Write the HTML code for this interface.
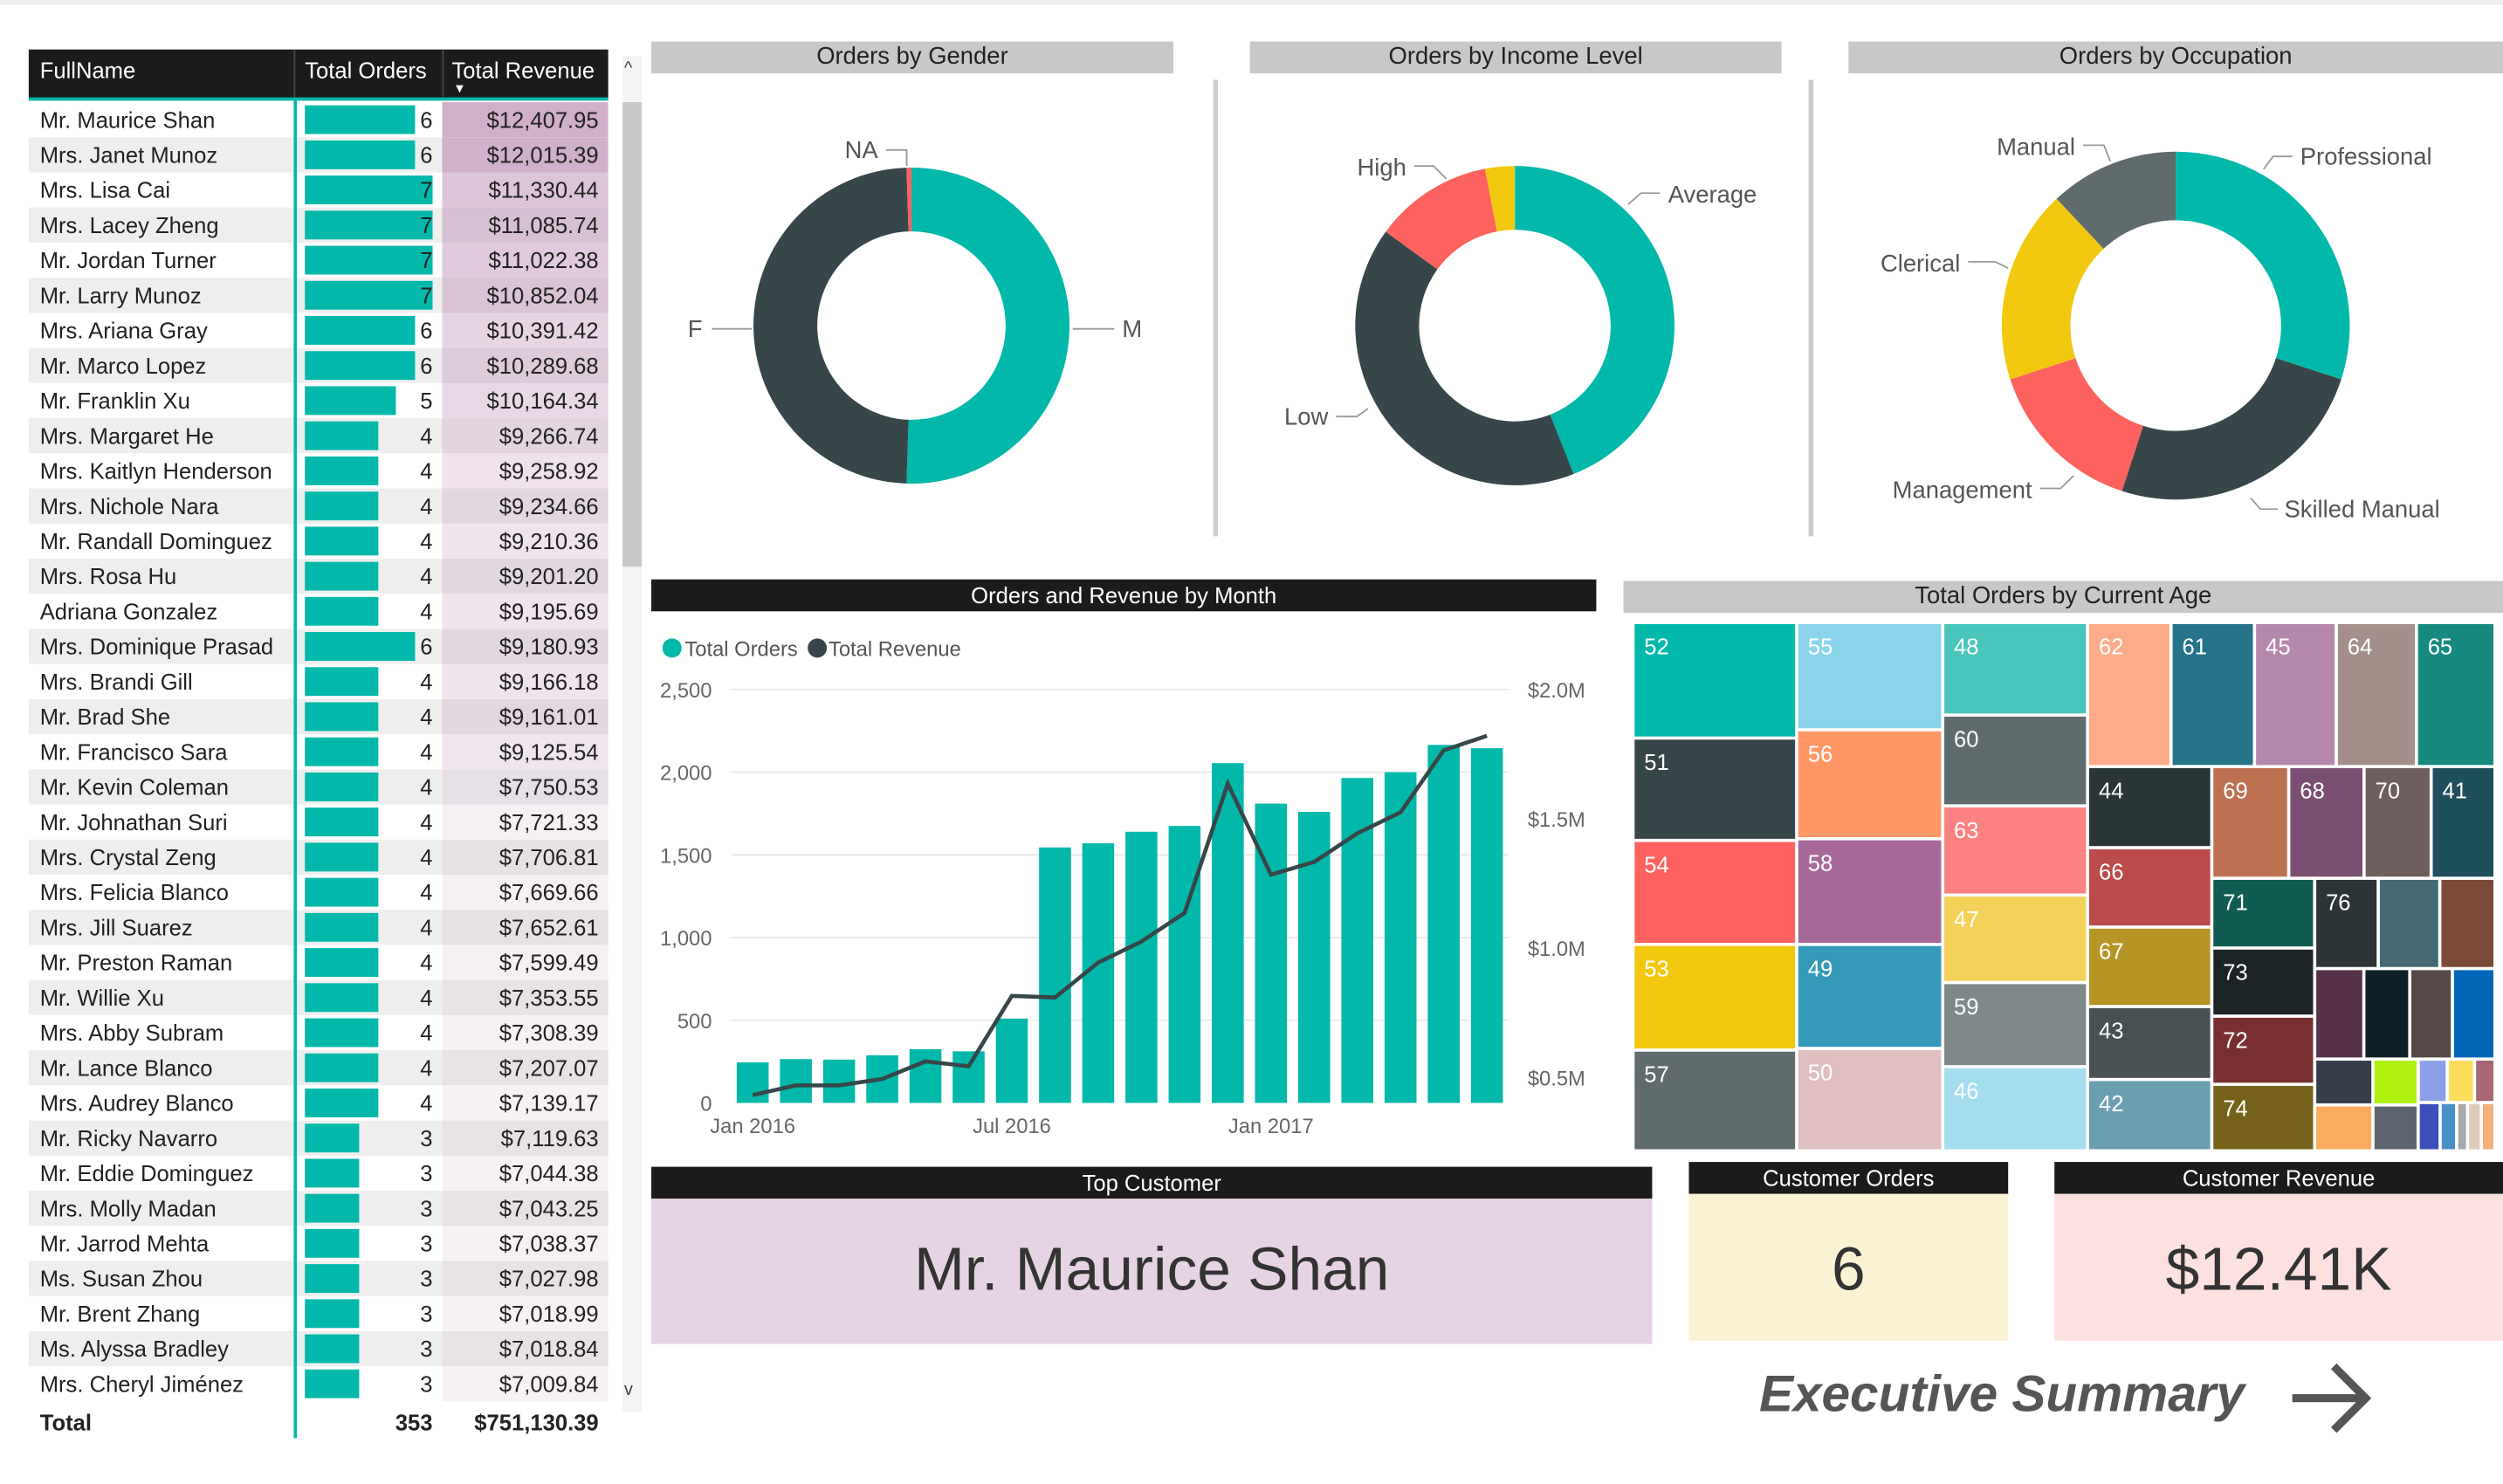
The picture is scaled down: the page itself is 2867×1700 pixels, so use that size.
<!DOCTYPE html>
<html><head><meta charset="utf-8">
<style>
html,body{margin:0;padding:0;background:#fff;overflow:hidden;}
body{width:2867px;height:1700px;position:relative;font-family:"Liberation Sans",sans-serif;}
#stage{position:absolute;left:0;top:0;width:1568px;height:930px;transform:scale(1.82844);transform-origin:0 0;}
.abs{position:absolute;}
.tbar{position:absolute;background:#c8c8c8;color:#222;font-size:15px;text-align:center;line-height:20px;}
.bbar{position:absolute;background:#1b1b1b;color:#fff;font-size:14px;text-align:center;line-height:20px;}
.row{position:absolute;left:18px;width:363px;height:22px;font-size:14px;color:#222;}
.row .n{position:absolute;left:7px;top:3px;white-space:nowrap;}
.row .bar{position:absolute;left:173px;top:2px;height:18px;background:#01b8aa;}
.row .o{position:absolute;right:110px;top:3px;}
.row .rv{position:absolute;left:259px;width:104px;top:0;height:22px;}
.row .r{position:absolute;right:6px;top:3px;}
</style></head><body>
<div id="stage">
<div class="abs" style="left:0;top:0;width:1568px;height:3px;background:#eee"></div>

<div class="abs" style="left:0;top:0;width:400px;height:910px">
 <div class="abs" style="left:18px;top:31px;width:363px;height:30px;background:#1b1b1b;color:#fff;font-size:14px;border-bottom:2px solid #01b8aa">
  <span class="abs" style="left:7px;top:5px">FullName</span>
  <span class="abs" style="left:173px;top:5px">Total Orders</span>
  <span class="abs" style="left:265px;top:5px">Total Revenue</span>
  <span class="abs" style="left:266px;top:20px;font-size:8px">▼</span>
  <div class="abs" style="left:166px;top:0;width:1px;height:30px;background:#444"></div>
  <div class="abs" style="left:259px;top:0;width:1px;height:30px;background:#444"></div>
 </div>
 <div id="rows"></div>
 <div class="abs" style="left:184px;top:63px;width:2px;height:838px;background:#01b8aa"></div>
 <div class="abs" style="left:18px;top:880px;width:363px;height:22px;font-size:14px;font-weight:bold;color:#222">
  <span class="abs" style="left:7px;top:3px">Total</span>
  <span class="abs" style="right:110px;top:3px">353</span>
  <span class="abs" style="right:6px;top:3px">$751,130.39</span>
 </div>
 <div class="abs" style="left:390px;top:35px;width:12px;height:850px;background:#f4f4f4">
  <div class="abs" style="left:0;top:29px;width:12px;height:291px;background:#c8c8c8"></div>
  <span class="abs" style="left:1px;top:2px;font-size:11px;color:#444">^</span>
  <span class="abs" style="left:1px;top:830px;font-size:11px;color:#444">v</span>
 </div>
</div>

<div class="tbar" style="left:408px;top:26px;width:327px">Orders by Gender</div>
<div class="tbar" style="left:783px;top:26px;width:333px">Orders by Income Level</div>
<div class="tbar" style="left:1158px;top:26px;width:410px">Orders by Occupation</div>
<div class="abs" style="left:760px;top:50px;width:3px;height:286px;background:#ccc"></div>
<div class="abs" style="left:1133px;top:50px;width:3px;height:286px;background:#ccc"></div>
<svg class="abs" id="donuts" style="left:0;top:0" width="1568" height="360"></svg>

<div class="bbar" style="left:408px;top:363px;width:592px">Orders and Revenue by Month</div>
<svg class="abs" id="combo" style="left:0;top:0" width="1010" height="730"></svg>

<div class="tbar" style="left:1017px;top:364px;width:551px">Total Orders by Current Age</div>
<svg class="abs" id="tree" style="left:0;top:0" width="1568" height="730"></svg>

<div class="bbar" style="left:408px;top:731px;width:627px">Top Customer</div>
<div class="abs" style="left:408px;top:751px;width:627px;height:91px;background:#e6d3e3;text-align:center;line-height:91px;font-size:38px;color:#333">Mr. Maurice Shan</div>
<div class="bbar" style="left:1058px;top:728px;width:200px">Customer Orders</div>
<div class="abs" style="left:1058px;top:748px;width:200px;height:92px;background:#faf3d3;text-align:center;line-height:96px;font-size:38px;color:#333">6</div>
<div class="bbar" style="left:1287px;top:728px;width:281px">Customer Revenue</div>
<div class="abs" style="left:1287px;top:748px;width:281px;height:92px;background:#fde0e0;text-align:center;line-height:96px;font-size:38px;color:#333">$12.41K</div>
<div class="abs" style="left:1102px;top:855px;font-size:32px;font-weight:bold;font-style:italic;color:#555;white-space:nowrap">Executive Summary</div>
<svg class="abs" style="left:1430px;top:850px" width="60" height="52"><path d="M6 26 H52 M32 6 L52 26 L32 46" stroke="#555" stroke-width="5" fill="none"/></svg>
</div>

<script>
const names=["Mr. Maurice Shan","Mrs. Janet Munoz","Mrs. Lisa Cai","Mrs. Lacey Zheng","Mr. Jordan Turner","Mr. Larry Munoz","Mrs. Ariana Gray","Mr. Marco Lopez","Mr. Franklin Xu","Mrs. Margaret He","Mrs. Kaitlyn Henderson","Mrs. Nichole Nara","Mr. Randall Dominguez","Mrs. Rosa Hu","Adriana Gonzalez","Mrs. Dominique Prasad","Mrs. Brandi Gill","Mr. Brad She","Mr. Francisco Sara","Mr. Kevin Coleman","Mr. Johnathan Suri","Mrs. Crystal Zeng","Mrs. Felicia Blanco","Mrs. Jill Suarez","Mr. Preston Raman","Mr. Willie Xu","Mrs. Abby Subram","Mr. Lance Blanco","Mrs. Audrey Blanco","Mr. Ricky Navarro","Mr. Eddie Dominguez","Mrs. Molly Madan","Mr. Jarrod Mehta","Ms. Susan Zhou","Mr. Brent Zhang","Ms. Alyssa Bradley","Mrs. Cheryl Jiménez"];
const orders=[6,6,7,7,7,7,6,6,5,4,4,4,4,4,4,6,4,4,4,4,4,4,4,4,4,4,4,4,4,3,3,3,3,3,3,3,3];
const revenue=[12407.95,12015.39,11330.44,11085.74,11022.38,10852.04,10391.42,10289.68,10164.34,9266.74,9258.92,9234.66,9210.36,9201.20,9195.69,9180.93,9166.18,9161.01,9125.54,7750.53,7721.33,7706.81,7669.66,7652.61,7599.49,7353.55,7308.39,7207.07,7139.17,7119.63,7044.38,7043.25,7038.37,7027.98,7018.99,7018.84,7009.84];
const rowsEl=document.getElementById('rows');
const fmt=v=>'$'+v.toLocaleString('en-US',{minimumFractionDigits:2,maximumFractionDigits:2});
names.forEach((n,i)=>{
  const r=document.createElement('div');
  r.className='row';
  
  
  r.style.top=(64+i*22)+'px';
  if(i%2==1) r.style.background='#eee';
  const t=(revenue[i]-6500)/(12407.95-6500);
  const a=0.12+0.58*t*t;
  r.innerHTML='<span class="n">'+n+'</span><div class="bar" style="width:'+(orders[i]/7*80)+'px"></div><span class="o">'+orders[i]+'</span><div class="rv" style="background:rgba(190,140,180,'+a.toFixed(2)+')"><span class="r">'+fmt(revenue[i])+'</span></div>';
  rowsEl.appendChild(r);
});

const NS='http://www.w3.org/2000/svg';
function mk(tag,attrs,parent){const e=document.createElementNS(NS,tag);for(const k in attrs)e.setAttribute(k,attrs[k]);parent.appendChild(e);return e;}
const genderLabels=["M","F","NA"];
const genderValues=[50.5,49,0.5];
const incomeLabels=["Average","Low","High","Very High"];
const incomeValues=[44,41,12,3];
const occLabels=["Professional","Skilled Manual","Management","Clerical","Manual"];
const occValues=[30,25,15,18,12];
const donutSvg=document.getElementById('donuts');
function donut(cx,cy,R,r,labels,values,colors,labelPos,name){
  const g=mk('g',{},donutSvg);
  
  
  const tot=values.reduce((a,b)=>a+b,0);let a0=0;
  values.forEach((v,i)=>{
    const a1=a0+v/tot*2*Math.PI;
    const p=(a,rr)=>[cx+rr*Math.sin(a),cy-rr*Math.cos(a)];
    const [x0,y0]=p(a0,R),[x1,y1]=p(a1,R),[x2,y2]=p(a1,r),[x3,y3]=p(a0,r);
    const lg=(a1-a0)>Math.PI?1:0;
    const s=mk('path',{d:`M${x0},${y0}A${R},${R} 0 ${lg} 1 ${x1},${y1}L${x2},${y2}A${r},${r} 0 ${lg} 0 ${x3},${y3}Z`,fill:colors[i]},g);
    
    
    a0=a1;
  });
  labelPos.forEach(lp=>{
    if(!lp)return;
    mk('polyline',{points:lp.line,fill:'none',stroke:'#999','stroke-width':1},g);
    const t=mk('text',{x:lp.x,y:lp.y,'font-size':15,fill:'#555','text-anchor':lp.anchor||'start'},g);
    t.textContent=lp.t;
    
    
  });
}
donut(571,204,99,59,genderLabels,genderValues,['#01b8aa','#374649','#fd625e'],[
 {t:genderLabels[0],x:703,y:211,line:'672,206 698,206'},
 {t:genderLabels[1],x:440,y:211,anchor:'end',line:'446,206 471,206'},
 {t:genderLabels[2],x:550,y:99,anchor:'end',line:'555,94 568,94 568,104'}],'gender-donut');
donut(949,204,100,60,incomeLabels,incomeValues,['#01b8aa','#374649','#fd625e','#f2c80f'],[
 {t:incomeLabels[0],x:1045,y:127,line:'1020,128 1028,121 1040,121'},
 {t:incomeLabels[1],x:832,y:266,anchor:'end',line:'837,261 850,261 857,256'},
 {t:incomeLabels[2],x:881,y:110,anchor:'end',line:'886,104 898,104 906,112'},null],'income-donut');
donut(1363,204,109,66,occLabels,occValues,['#01b8aa','#374649','#fd625e','#f2c80f','#5f6b6d'],[
 {t:occLabels[0],x:1441,y:103,line:'1418,106 1424,98 1436,98'},
 {t:occLabels[1],x:1431,y:324,line:'1410,312 1416,319 1427,319'},
 {t:occLabels[2],x:1273,y:312,anchor:'end',line:'1278,306 1291,306 1299,298'},
 {t:occLabels[3],x:1228,y:170,anchor:'end',line:'1233,164 1250,164 1258,168'},
 {t:occLabels[4],x:1300,y:97,anchor:'end',line:'1305,91 1318,91 1322,101'}],'occupation-donut');

const months=["Jan 2016","Feb 2016","Mar 2016","Apr 2016","May 2016","Jun 2016","Jul 2016","Aug 2016","Sep 2016","Oct 2016","Nov 2016","Dec 2016","Jan 2017","Feb 2017","Mar 2017","Apr 2017","May 2017","Jun 2017"];
const monthOrders=[245,265,262,288,325,312,510,1545,1570,1640,1675,2055,1810,1760,1965,2000,2165,2145];
const monthRevenueM=[0.432,0.469,0.469,0.494,0.562,0.543,0.815,0.809,0.944,1.025,1.136,1.636,1.284,1.333,1.444,1.525,1.765,1.821];
const leftTicks=[0,500,1000,1500,2000,2500];
const leftTickLabels=["0","500","1,000","1,500","2,000","2,500"];
const rightTicks=[0.5,1.0,1.5,2.0];
const rightTickLabels=["$0.5M","$1.0M","$1.5M","$2.0M"];
const xLabelIdx=[0,6,12];
const combo=document.getElementById('combo');
const X0=458,X1=945,Ytop=432,Ybot=691;
const yL=v=>Ybot-(v/2500)*(Ybot-Ytop);
const yR=v=>Ytop+(2.0-v)*162;
const slot=(X1-X0)/months.length;
const xC=i=>X0+slot*(i+0.5);
leftTicks.forEach((t,i)=>{
  if(t>0){const l=mk('line',{x1:X0,x2:X1,y1:yL(t),y2:yL(t),stroke:'#e8e8e8','stroke-width':1},combo);}
  const tx=mk('text',{x:446,y:yL(t)+5,'font-size':13,fill:'#666','text-anchor':'end'},combo);
  tx.textContent=leftTickLabels[i];
  
  
});
rightTicks.forEach((t,i)=>{
  const tx=mk('text',{x:957,y:yR(t)+5,'font-size':13,fill:'#666'},combo);
  tx.textContent=rightTickLabels[i];
  
  
});
monthOrders.forEach((v,i)=>{
  const b=mk('rect',{x:xC(i)-10,y:yL(v),width:20,height:Ybot-yL(v),fill:'#01b8aa'},combo);
  
  
});
const ln=mk('polyline',{points:monthRevenueM.map((v,i)=>xC(i)+','+yR(v)).join(' '),fill:'none',stroke:'#374649','stroke-width':2.5},combo);


xLabelIdx.forEach(i=>{
  const tx=mk('text',{x:xC(i),y:710,'font-size':13,fill:'#666','text-anchor':'middle'},combo);
  tx.textContent=months[i];
  
  
});
[['Total Orders','#01b8aa',421,429],['Total Revenue','#374649',512,519]].forEach(l=>{
  mk('circle',{cx:l[2],cy:406,r:6,fill:l[1]},combo);
  const tx=mk('text',{x:l[3],y:411,'font-size':13,fill:'#555'},combo);
  tx.textContent=l[0];
  
  
});

const ages=[52,51,54,53,57, 55,56,58,49,50, 48,60,63,47,59,46, 62,61,45,64,65, 44,66,67,43,42, 69,68,70,41, 71,73,72,74, 76,75,77, 78,79,80,81, 82,83,84,85, 86,87,88, 89,90,91,92,93];
const ageOrders=[7140,6324,6426,6528,6222, 5915,6006,5824,5733,5642, 5060,4968,4876,4784,4600,4600, 4539,4539,4450,4361,4272, 3800,3724,3724,3420,3344, 3243,3174,2829,2691, 2709,2646,2646,2583, 2166,2100,1881, 1680,1568,1456,1456, 1008,1008,784,784, 476,448,336, 400,300,200,250,250];
const ageColors=['#01b8aa','#374649','#fd625e','#f2c80f','#5f6b6d', '#8ad4eb','#fe9666','#a66999','#3599b8','#dfbfbf', '#4ac5bb','#5f6b6d','#fb8281','#f4d25a','#7f898a','#a4ddee', '#fdab89','#26738a','#b687ac','#a48f8a','#168980', '#293537','#bb4a4a','#b59525','#475052','#6a9fb0', '#bd7150','#7b4f71','#6e5e5e','#1f4e5c', '#115c52','#1c2325','#792f2f','#76621a', '#2d3436','#466a74','#7a4b36', '#563349','#0f2128','#554948','#0067b8', '#363e49','#f8ac5d','#aef110','#5f6570', '#8ca0e8','#fddd5c','#a66672', '#3b4fb8','#4a90c8','#a7a9ab','#dccbb8','#f3b07a'];
const layout=['h',[
 ['v',[0,1,2,3,4]],
 ['v',[5,6,7,8,9]],
 ['v',[10,11,12,13,14,15]],
 ['v',[
   ['h',[16,17,18,19,20]],
   ['h',[
     ['v',[21,22,23,24,25]],
     ['v',[
       ['h',[26,27,28,29]],
       ['h',[
         ['v',[30,31,32,33]],
         ['v',[
           ['h',[34,35,36]],
           ['h',[37,38,39,40]],
           ['h',[['v',[41,42]],['v',[43,44]],['v',[['h',[45,46,47]],['h',[48,49,50,51,52]]]]]]
         ]]
       ]]
     ]]
   ]]
 ]]
]];
const tree=document.getElementById('tree');
const sumNode=n=>typeof n==='number'?ageOrders[n]:n[1].reduce((a,c)=>a+sumNode(c),0);
function place(n,x,y,w,h){
  if(typeof n==='number'){
    const r=mk('rect',{x:x+1,y:y+1,width:Math.max(w-2,0.5),height:Math.max(h-2,0.5),fill:ageColors[n]},tree);
    
    
    if(ageOrders[n]>=2150){
      const t=mk('text',{x:x+7,y:y+20,'font-size':14,fill:'#fff'},tree);
      t.textContent=ages[n];
      
      
    }
    return;
  }
  const tot=sumNode(n);let off=0;
  n[1].forEach(c=>{
    const f=sumNode(c)/tot;
    if(n[0]==='h'){place(c,x+off,y,w*f,h);off+=w*f;}
    else{place(c,x,y+off,w,h*f);off+=h*f;}
  });
}
place(layout,1023,390,540,331);
</script>
</body></html>
